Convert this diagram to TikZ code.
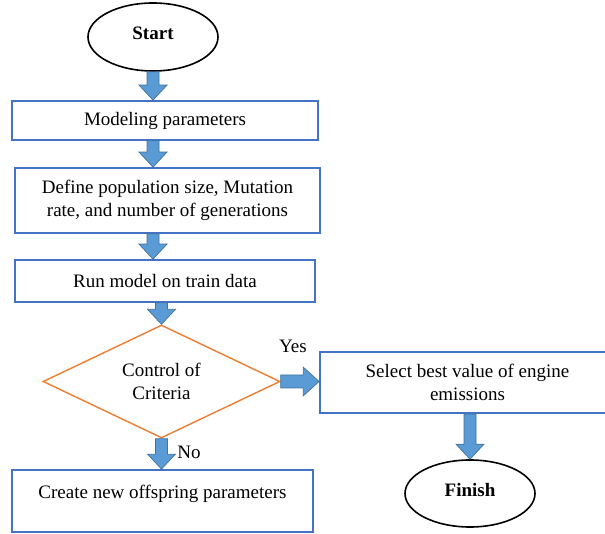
\documentclass[tikz,border=0pt]{standalone}
\usepackage{fontspec}
\setmainfont{Liberation Serif}
\usetikzlibrary{calc, positioning, shapes.geometric}

\definecolor{boxblue}{HTML}{4472C4}
\definecolor{decorange}{HTML}{ED7D31}
\definecolor{arrowfill}{HTML}{5B9BD5}
\definecolor{arrowedge}{HTML}{41719C}

\tikzset{
  stepbox/.style={rectangle, draw=boxblue, line width=1.8pt, align=center,
    inner sep=0pt, font=\fontsize{19}{23.5}\selectfont},
  decision/.style={diamond, draw=decorange, line width=1.4pt, align=center,
    inner sep=0pt, aspect=2.1, minimum width=237pt, minimum height=113pt,
    font=\fontsize{19}{23.5}\selectfont},
  terminal/.style={ellipse, draw, line width=1.6pt, inner sep=0pt, text depth=8pt,
    font=\fontsize{19}{23}\selectfont\bfseries},
  fatarrow/.style={fill=arrowfill, draw=arrowedge, line width=0.7pt, line join=miter},
  flowlabel/.style={font=\fontsize{19}{23}\selectfont},
}

\newcommand{\arrowdown}[2]{%
  \path let \p1=(#1), \p2=(#2) in [fatarrow]
    (\x1-6pt,\y1) -- (\x1+6pt,\y1) -- (\x1+6pt,\y2+15pt) -- (\x1+14pt,\y2+15pt)
    -- (\x1,\y2) -- (\x1-14pt,\y2+15pt) -- (\x1-6pt,\y2+15pt) -- cycle;}
\newcommand{\arrowright}[2]{%
  \path let \p1=(#1), \p2=(#2) in [fatarrow]
    (\x1,\y1+6.5pt) -- (\x2-16pt,\y1+6.5pt) -- (\x2-16pt,\y1+14.5pt) -- (\x2,\y1)
    -- (\x2-16pt,\y1-14.5pt) -- (\x2-16pt,\y1-6.5pt) -- (\x1,\y1-6.5pt) -- cycle;}

\begin{document}
\begin{tikzpicture}[x=1pt,y=-1pt]
\useasboundingbox (0,0) rectangle (605,534);

\node[terminal, minimum width=130pt, minimum height=68pt] (start) at (153,37) {Start};
\node[stepbox, minimum width=306pt, minimum height=39pt] (model) at (165,120.5) {Modeling parameters};
\node[stepbox, minimum width=305pt, minimum height=65pt] (popul) at (167.5,200.5) {Define population size, Mutation\\rate, and number of generations};
\node[stepbox, minimum width=300pt, minimum height=42pt] (run) at (165,281) {Run model on train data};
\node[decision] (crit) at (161.5,381.5) {Control of\\Criteria};
\node[stepbox, minimum width=295pt, minimum height=61pt] (select) at (467.5,382.5) {Select best value of engine\\emissions};
\node[terminal, minimum width=130pt, minimum height=67pt] (finish) at (470,493.5) {Finish};
\node[stepbox, minimum width=301pt, minimum height=62pt, text depth=19pt] (offspr) at (162.5,501) {Create new offspring parameters};

\arrowdown{start.south}{start.south |- model.north}
\arrowdown{start.south |- model.south}{start.south |- popul.north}
\arrowdown{start.south |- popul.south}{start.south |- run.north}
\arrowdown{crit.north |- run.south}{crit.north}
\arrowdown{crit.south}{crit.south |- offspr.north}
\arrowright{crit.east}{crit.east -| select.west}
\arrowdown{finish.north |- select.south}{finish.north}

\node[flowlabel] (yes) at (293,346) {Yes};
\node[flowlabel] (no) at (189,452) {No};
\end{tikzpicture}
\end{document}
